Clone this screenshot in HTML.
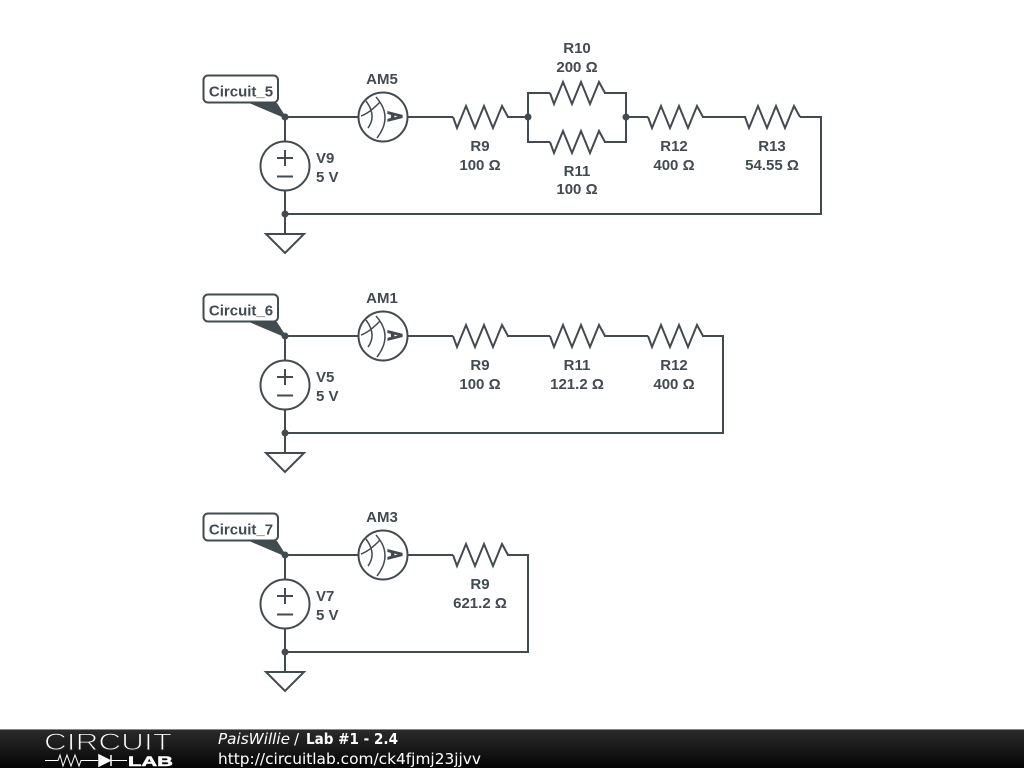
<!DOCTYPE html>
<html><head><meta charset="utf-8"><style>
html,body{margin:0;padding:0;background:#fff}
svg{display:block}
.t{font:bold 15px "Liberation Sans",sans-serif;fill:#424b50;text-anchor:middle}
.s{font:bold 15px "Liberation Sans",sans-serif;fill:#424b50;text-anchor:start}
.f{font:15px "DejaVu Sans",sans-serif;fill:#fff}
.a{font:bold 20px "Liberation Sans",sans-serif;fill:#424b50;stroke:#424b50;stroke-width:1.2px;text-anchor:middle}
</style></head><body>
<svg width="1024" height="768" viewBox="0 0 1024 768" xmlns="http://www.w3.org/2000/svg">
<defs>
<linearGradient id="g" x1="0" y1="0" x2="0" y2="1"><stop offset="0" stop-color="#2c2c2c"/><stop offset="1" stop-color="#050505"/></linearGradient>
<polyline id="r" points="-27,0 -23,11 -14,-11 -5,11 4,-11 13,11 22,-11 28,0" fill="none" stroke="#424b50" stroke-width="2" stroke-linejoin="miter"/>
<g id="am" fill="none" stroke="#424b50">
<circle r="24.500" fill="#fff" stroke-width="2"/>
<path d="M-22,-1 Q-13.500,-4 -3,-15 M-17,-16 Q-6,-1.500 -15,11 M-7,-20 Q10.500,-0.500 -6,21" stroke-width="1.500"/>
</g>
<g id="src" fill="none" stroke="#424b50" stroke-width="2">
<circle r="24.500" fill="#fff"/>
<path d="M-8,-8 H8 M0,-16 V0 M-8,10.500 H8"/>
</g>
<g id="node">
<path d="M-36,-14 L-8,-14 L-1,-3 L0,0 L-3,0 Z" fill="#424b50"/>
<rect x="-81.500" y="-41.500" width="74.500" height="27" rx="4.500" fill="#fff" stroke="#424b50" stroke-width="2"/>
<circle r="3.500" fill="#424b50"/>
</g>
<g id="gnd" fill="none" stroke="#424b50" stroke-width="2">
<path d="M-19,0 H19 L0,19 Z" stroke-linejoin="miter"/>
</g>
</defs>
<rect width="1024" height="768" fill="#fff"/>

<!-- Circuit 5 -->
<g fill="none" stroke="#424b50" stroke-width="2">
<path d="M285,117 V234 M285,117 H453 M507,117 H528 V93 H550 M604,93 H626 V142 H604 M550,142 H528 V117 M626,117 H648 M702,117 H746 M800,117 H821 V214 H285"/>
</g>
<use href="#r" x="480" y="117"/><use href="#r" x="577" y="93"/><use href="#r" x="577" y="142"/><use href="#r" x="675" y="117"/><use href="#r" x="772" y="117"/>
<circle cx="528" cy="117" r="3.500" fill="#424b50"/><circle cx="626" cy="117" r="3.500" fill="#424b50"/><circle cx="285" cy="214" r="3.500" fill="#424b50"/>
<use href="#am" x="383" y="117"/><use href="#src" x="285" y="166"/><use href="#gnd" x="285" y="234"/><use href="#node" x="285" y="117"/>
<text class="a" transform="translate(388,116.500) rotate(90) scale(.72,1)">A</text>
<text class="t" x="241" y="96.500">Circuit_5</text>
<text class="t" x="382" y="84">AM5</text>
<text class="s" x="316" y="163">V9</text><text class="s" x="316" y="182">5 V</text>
<text class="t" x="480" y="151">R9</text><text class="t" x="480" y="170">100 Ω</text>
<text class="t" x="577" y="53">R10</text><text class="t" x="577" y="72">200 Ω</text>
<text class="t" x="577" y="176">R11</text><text class="t" x="577" y="194">100 Ω</text>
<text class="t" x="674" y="151">R12</text><text class="t" x="674" y="170">400 Ω</text>
<text class="t" x="772" y="151">R13</text><text class="t" x="772" y="170">54.55 Ω</text>

<!-- Circuit 6 -->
<g fill="none" stroke="#424b50" stroke-width="2">
<path d="M285,336 V453 M285,336 H453 M507,336 H550 M604,336 H648 M702,336 H723 V433 H285"/>
</g>
<use href="#r" x="480" y="336"/><use href="#r" x="577" y="336"/><use href="#r" x="675" y="336"/>
<circle cx="285" cy="433" r="3.500" fill="#424b50"/>
<use href="#am" x="383" y="336"/><use href="#src" x="285" y="385"/><use href="#gnd" x="285" y="453"/><use href="#node" x="285" y="336"/>
<text class="a" transform="translate(388,335.500) rotate(90) scale(.72,1)">A</text>
<text class="t" x="241" y="315.500">Circuit_6</text>
<text class="t" x="382" y="303">AM1</text>
<text class="s" x="316" y="382">V5</text><text class="s" x="316" y="401">5 V</text>
<text class="t" x="480" y="370">R9</text><text class="t" x="480" y="389">100 Ω</text>
<text class="t" x="577" y="370">R11</text><text class="t" x="577" y="389">121.2 Ω</text>
<text class="t" x="674" y="370">R12</text><text class="t" x="674" y="389">400 Ω</text>

<!-- Circuit 7 -->
<g fill="none" stroke="#424b50" stroke-width="2">
<path d="M285,555 V672 M285,555 H453 M507,555 H528 V652 H285"/>
</g>
<use href="#r" x="480" y="555"/>
<circle cx="285" cy="652" r="3.500" fill="#424b50"/>
<use href="#am" x="383" y="555"/><use href="#src" x="285" y="604"/><use href="#gnd" x="285" y="672"/><use href="#node" x="285" y="555"/>
<text class="a" transform="translate(388,554.500) rotate(90) scale(.72,1)">A</text>
<text class="t" x="241" y="534.500">Circuit_7</text>
<text class="t" x="382" y="522">AM3</text>
<text class="s" x="316" y="601">V7</text><text class="s" x="316" y="620">5 V</text>
<text class="t" x="480" y="589">R9</text><text class="t" x="480" y="608">621.2 Ω</text>

<!-- Footer -->
<rect y="729" width="1024" height="39" fill="url(#g)"/>
<rect y="729" width="1024" height="1" fill="#888"/>
<text x="44" y="750" font-family="Liberation Sans,sans-serif" font-size="24" fill="#fff" stroke="#222" stroke-width="1" textLength="128" lengthAdjust="spacingAndGlyphs">CIRCUIT</text>
<path d="M45,760.500 H58 L60,755 L63,766 L67,755 L71,766 L75,755 L79,766 L81,760.500 H98" fill="none" stroke="#fff" stroke-width="1"/>
<path d="M99,755 L110,760.500 L99,766 Z M111,755 V766" fill="#fff" stroke="#fff" stroke-width="1.500"/>
<path d="M111,760.500 H127" stroke="#fff" stroke-width="1"/>
<text x="128" y="766" font-family="Liberation Sans,sans-serif" font-size="14" font-weight="bold" fill="#fff" stroke="#fff" stroke-width=".5" textLength="45" lengthAdjust="spacingAndGlyphs">LAB</text>
<text class="f" x="218" y="744" style="font-style:italic" textLength="72" lengthAdjust="spacingAndGlyphs">PaisWillie</text>
<text class="f" x="294" y="744">/</text>
<text class="f" x="306" y="744" style="font-weight:bold" textLength="92" lengthAdjust="spacingAndGlyphs">Lab #1 - 2.4</text>
<text class="f" x="218" y="764" textLength="263" lengthAdjust="spacingAndGlyphs">http://circuitlab.com/ck4fjmj23jjvv</text>
</svg>
</body></html>
